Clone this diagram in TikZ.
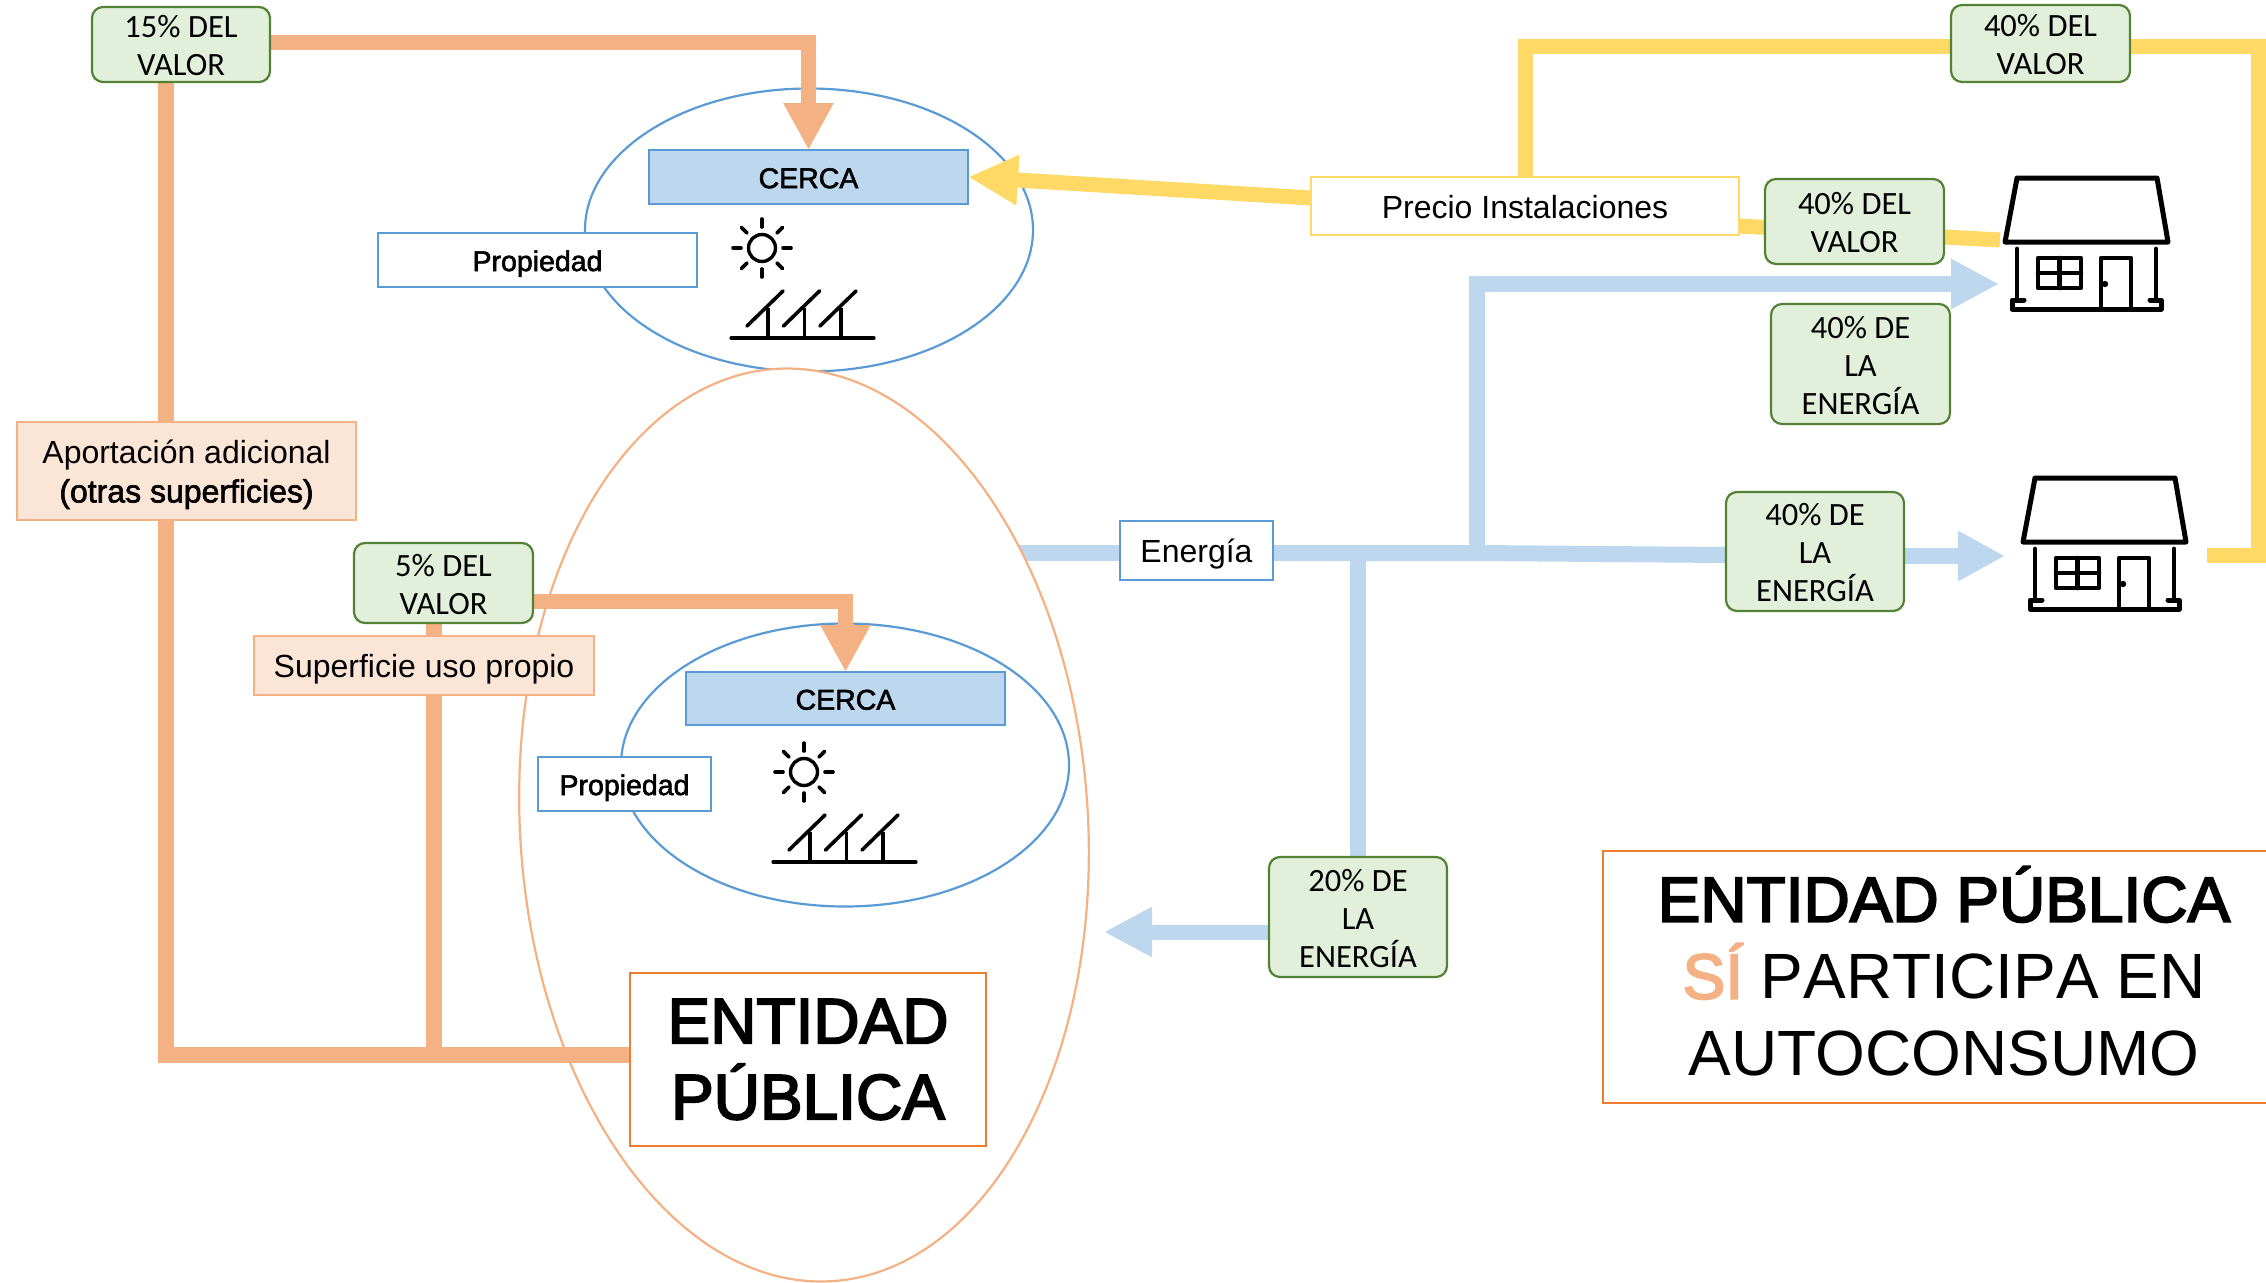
\documentclass[tikz,border=0pt]{standalone}
\usepackage{fontspec}
\usetikzlibrary{arrows.meta,shapes.geometric,calc}
\setmainfont{Liberation Sans}
\newfontfamily\greenfont{Carlito}
\newfontfamily\fakebold[FakeBold=3]{Liberation Sans}
\newfontfamily\fakeboldlight[FakeBold=2]{Liberation Sans}
\newcommand\pushdn[1]{\rule{0pt}{#1pt}}
\definecolor{orangeL}{HTML}{F4B183}
\definecolor{orangeF}{HTML}{FBE5D6}
\definecolor{orangeD}{HTML}{ED7D31}
\definecolor{blueL}{HTML}{BDD7EE}
\definecolor{blueD}{HTML}{5B9BD5}
\definecolor{yellowL}{HTML}{FFD966}
\definecolor{greenF}{HTML}{E2EFDA}
\definecolor{greenD}{HTML}{548235}
\pgfdeclarelayer{layerA}\pgfdeclarelayer{layerB}\pgfdeclarelayer{layerC}
\pgfsetlayers{layerA,layerB,layerC,main}
\tikzset{
  box/.style args={#1/#2/#3/#4}{rectangle,anchor=north west,inner sep=0pt,outer sep=0pt,
    minimum width=#3pt-#1pt,minimum height=#4pt-#2pt,align=center,line width=1.6pt},
  green box/.style={draw=greenD,fill=greenF,rounded corners=11pt,line width=2.2pt,
    font=\greenfont\fontsize{32.5}{38}\selectfont},
  white blue/.style={draw=blueD,fill=white,font=\fontsize{30}{36}\selectfont},
  cerca box/.style={draw=blueD,fill=blueL,font=\fakeboldlight\fontsize{28.5}{36}\selectfont},
  peach/.style={draw=orangeL,fill=orangeF,font=\fontsize{32}{39}\selectfont},
  blue oval/.style={ellipse,draw=blueD,line width=2.2pt,inner sep=0pt,outer sep=0pt},
  link/.style={line width=#1,line cap=butt,line join=miter},
  link/.default=15pt,
  orange link/.style={link,draw=orangeL},
  blue link/.style={link,draw=blueL},
  yellow link/.style={link,draw=yellowL},
  big tip/.style={-{Triangle[length=#1pt,width=47pt]}},
  big tip/.default=48,
  icon/.style={draw=black,line cap=round,line join=round},
  pics/sunpanel/.style={code={
    \draw[icon,line width=3.4pt] (0,0) circle (13.5);
    \foreach \a in {0,45,...,315}{\draw[icon,line width=3.6pt] (\a:21) -- (\a:29);}
    \draw[icon,line width=3.2pt] (-31,90) -- (112,90);
    \foreach \d in {0,36.5,73}{
      \draw[icon,line width=3.6pt] ($(-15,78)+(\d,0)$) -- ($(21,43)+(\d,0)$);
      \draw[icon,line width=3.2pt,line cap=butt] ($(6,60)+(\d,0)$) -- ($(6,90)+(\d,0)$);
    }
  }},
  pics/house/.style={code={
    \draw[icon,line width=5pt] (2017,178) -- (2157,178) -- (2168,242) -- (2005,242) -- cycle;
    \draw[icon,line width=4.8pt] (2017,249) -- (2017,298) (2156,249) -- (2156,298);
    \draw[icon,line width=5pt] (2024,300) -- (2012,300) -- (2012,309) -- (2161,309) -- (2161,300) -- (2150,300);
    \draw[icon,line width=4.6pt] (2038,258) rectangle (2081,288) (2059.5,258) -- (2059.5,288) (2038,273) -- (2081,273);
    \draw[icon,line width=4.6pt] (2101,309) -- (2101,258) -- (2131,258) -- (2131,309);
    \fill (2105,284) circle (3.2);
  }}
}
\begin{document}
\begin{tikzpicture}[x=1pt,y=-1pt]
\useasboundingbox (0,0) rectangle (2266,1282);

% ellipses
\begin{pgfonlayer}{layerA}
  \node[blue oval,minimum width=448pt,minimum height=283pt] (oval1) at (809,230) {};
\end{pgfonlayer}
\begin{pgfonlayer}{layerB}
  \node[ellipse,draw=orangeL,fill=white,line width=2.2pt,inner sep=0pt,outer sep=0pt,
    minimum width=568pt,minimum height=914pt,rotate=3.5] (bigoval) at (804,825) {};
  \node[blue oval,fill=white,minimum width=448pt,minimum height=283pt] (oval2) at (845,765) {};
\end{pgfonlayer}

% boxes
\node[box=92/7/270/82,green box] (v15) at (92,7) {\pushdn{25}15\% DEL\\VALOR};
\node[box=1951/5/2130/82,green box] (v40a) at (1951,5) {\pushdn{25}40\% DEL\\VALOR};
\node[box=1765/179/1944/264,green box] (v40b) at (1765,179) {\pushdn{25}40\% DEL\\VALOR};
\node[box=1771/304/1950/424,green box] (e40a) at (1771,304) {\pushdn{25}40\% DE\\LA\\ENERGÍA};
\node[box=1726/492/1904/611,green box] (e40b) at (1726,492) {\pushdn{25}40\% DE\\LA\\ENERGÍA};
\node[box=1269/857/1447/977,green box] (e20) at (1269,857) {\pushdn{25}20\% DE\\LA\\ENERGÍA};
\node[box=354/543/533/623,green box] (v5) at (354,543) {\pushdn{25}5\% DEL\\VALOR};

\node[box=649/150/968/204,cerca box] (cerca1) at (649,150) {\pushdn{22.5}CERCA};
\node[box=686/672/1005/725,cerca box] (cerca2) at (686,672) {\pushdn{22.5}CERCA};
\node[box=378/233/697/287,white blue,font=\fakeboldlight\fontsize{28.5}{36}\selectfont] (prop1) at (378,233) {\pushdn{28}Propiedad};
\node[box=538/757/711/811,white blue,font=\fakeboldlight\fontsize{28.5}{36}\selectfont] (prop2) at (538,757) {\pushdn{28}Propiedad};
\node[box=1120/521/1273/580,white blue,font=\fontsize{32}{38}\selectfont] (energia) at (1120,521) {\pushdn{31.5}Energía};
\node[box=1311/177/1739/235,draw=yellowL,fill=white,font=\fontsize{32}{38}\selectfont] (precio) at (1311,177) {\pushdn{24.5}Precio Instalaciones};
\node[box=17/422/356/520,peach] (aporta) at (17,422) {\pushdn{30.5}Aportación adicional\\{\fakeboldlight (otras superficies)}};
\node[box=254/636/594/695,peach] (superf) at (254,636) {\pushdn{31.5}Superficie uso propio};
\node[box=630/973/986/1146,draw=orangeD,fill=white,font=\fakebold\fontsize{64}{76}\selectfont] (entidad) at (630,973) {ENTIDAD\\PÚBLICA};
\node[box=1603/851/2285/1103,draw=orangeD,fill=white,font=\fontsize{64}{77}\selectfont] (legend) at (1603,851)
  {{\fakebold ENTIDAD PÚBLICA}\\{\fakebold\color{orangeL}SÍ} {\addfontfeature{Kerning=Off}PARTICIPA EN}\\AUTOCONSUMO\rule[-12pt]{0pt}{1pt}};

% icons
\pic at (762,248) {sunpanel};
\pic at (804,772) {sunpanel};
\pic (houseA) at (0,0) {house};
\pic (houseB) at (18,300) {house};

% free ends of connectors
\coordinate (tipH1) at (1999,284);
\coordinate (tipH2) at (2005,556);
\coordinate (endY1) at (2000,240);
\coordinate (endY2) at (2207,555);
\coordinate (topY) at (1525,46);
\coordinate (tipE) at (1104,932);
\coordinate (juncE) at (1358,553);
\coordinate (juncF) at (1477,553);
\coordinate (bus) at (166,1055);
\coordinate (busB) at (434,1055);

\begin{pgfonlayer}{layerA}
  \draw[blue link,line width=16pt] (bigoval.center |- juncE) -- (energia.west |- juncE);
\end{pgfonlayer}

\begin{pgfonlayer}{layerC}
  % orange
  \draw[orange link,big tip=47] ([yshift=2.5pt]v15.east) -| (cerca1.north);
  \draw[orange link,line width=16pt] (v15.south -| bus) -- (bus) -- (entidad.west |- bus);
  \draw[orange link,big tip=47] ([yshift=-18.5pt]v5.east) -| (cerca2.north);
  \draw[orange link,line width=16pt] (v5.south -| busB) -- (busB);
  % yellow
  \draw[yellow link,big tip=50] ([yshift=8pt]precio.west) -- (cerca1.east);
  \draw[yellow link] (precio.north -| topY) -- (topY) -- (v40a.west |- topY);
  \draw[yellow link] (v40a.east |- topY) -- (2258,46) -- (2258,555) -- (endY2);
  \draw[yellow link] ([yshift=-20pt]precio.east) -- (endY1);
  % blue
  \draw[blue link,line width=16pt] (energia.east |- juncE) -- (juncF) -- ([yshift=-3.5pt]e40b.west);
  \draw[blue link,big tip=48,line width=16pt] (juncF) |- (tipH1);
  \draw[blue link,big tip=47,line width=16pt] ([yshift=-4.5pt]e40b.east) -- (tipH2);
  \draw[blue link,line width=16pt] (juncE) -- (juncE |- e20.north);
  \draw[blue link,big tip=48] ([yshift=-15pt]e20.west) -- (tipE);
\end{pgfonlayer}
\end{tikzpicture}
\end{document}
